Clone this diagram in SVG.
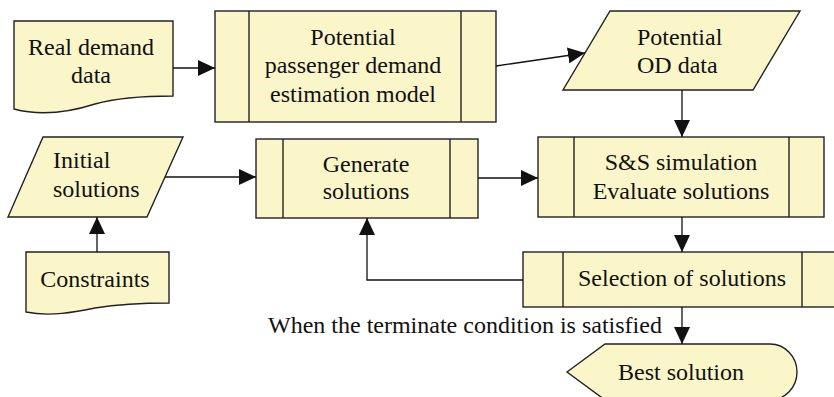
<svg xmlns="http://www.w3.org/2000/svg" width="834" height="397" viewBox="0 0 834 397">
<style>
.n{fill:#FBF6CA;stroke:#222;stroke-width:1.4}
.l{fill:none;stroke:#222;stroke-width:1.4}
.c{fill:none;stroke:#111;stroke-width:1.3}
text{font-family:'Liberation Serif','Times New Roman',Times,'DejaVu Serif',serif;font-size:24px;fill:#111}
.m{text-anchor:middle}
</style>
<defs>
<marker id="ah" markerUnits="userSpaceOnUse" markerWidth="17" markerHeight="16" refX="17" refY="8" orient="auto">
<path d="M0,0 L17,8 L0,16 z" fill="#111"/>
</marker>
</defs>
<g id="real-demand">
<path class="n" d="M14,21 L173,21 L173,96 C150,96 120,97 95,104 C70,112 40,116 14,109 Z"/>
<text class="m" x="91" y="55" font-family="Liberation Serif, serif">Real demand</text>
<text class="m" x="91" y="83" font-family="Liberation Serif, serif">data</text>
</g>
<g id="estimation-model">
<rect class="n" x="215" y="11" width="281" height="111"/>
<path class="l" d="M249,11 V122 M461,11 V122"/>
<text class="m" x="353" y="45">Potential</text>
<text class="m" x="353" y="73">passenger demand</text>
<text class="m" x="353" y="102">estimation model</text>
</g>
<g id="od-data">
<path class="n" d="M610,11 L800,11 L753,90 L563,90 Z"/>
<text x="637" y="45">Potential</text>
<text x="637" y="73">OD data</text>
</g>
<g id="initial-solutions">
<path class="n" d="M43,137 L183,137 L147,217 L8,217 Z"/>
<text x="53" y="168">Initial</text>
<text x="53" y="197">solutions</text>
</g>
<g id="constraints">
<path class="n" d="M26,252 L169,252 L169,303 C150,303 120,304 95,308 C75,312 50,317 26,312 Z"/>
<text class="m" x="95" y="287">Constraints</text>
</g>
<g id="generate">
<rect class="n" x="256" y="139" width="222" height="79"/>
<path class="l" d="M283,139 V218 M450,139 V218"/>
<text class="m" x="366" y="172">Generate</text>
<text class="m" x="366" y="199">solutions</text>
</g>
<g id="simulation">
<rect class="n" x="538" y="137" width="286" height="80"/>
<path class="l" d="M574,137 V217 M789,137 V217"/>
<text class="m" x="681" y="170">S&amp;S simulation</text>
<text class="m" x="681" y="199">Evaluate solutions</text>
</g>
<g id="selection">
<rect class="n" x="523" y="252" width="319" height="55"/>
<path class="l" d="M563,252 V307 M802,252 V307"/>
<text class="m" x="682" y="286">Selection of solutions</text>
</g>
<g id="best-solution">
<path class="n" d="M567,372 L605,344 L770,344 A27,28 0 0 1 770,400 L605,400 Z"/>
<text class="m" x="681" y="380">Best solution</text>
</g>
<g id="connectors">
<path class="c" marker-end="url(#ah)" d="M173,68 H215"/>
<path class="c" marker-end="url(#ah)" d="M496,66 L585,53"/>
<path class="c" marker-end="url(#ah)" d="M682,90 V137"/>
<path class="c" marker-end="url(#ah)" d="M165,177 H256"/>
<path class="c" marker-end="url(#ah)" d="M97,252 V217"/>
<path class="c" marker-end="url(#ah)" d="M478,178 H538"/>
<path class="c" marker-end="url(#ah)" d="M682,217 V252"/>
<path class="c" marker-end="url(#ah)" d="M523,280 H367 V218"/>
<path class="c" marker-end="url(#ah)" d="M682,307 V344"/>
<text x="268" y="333">When the terminate condition is satisfied</text>
</g>
</svg>
